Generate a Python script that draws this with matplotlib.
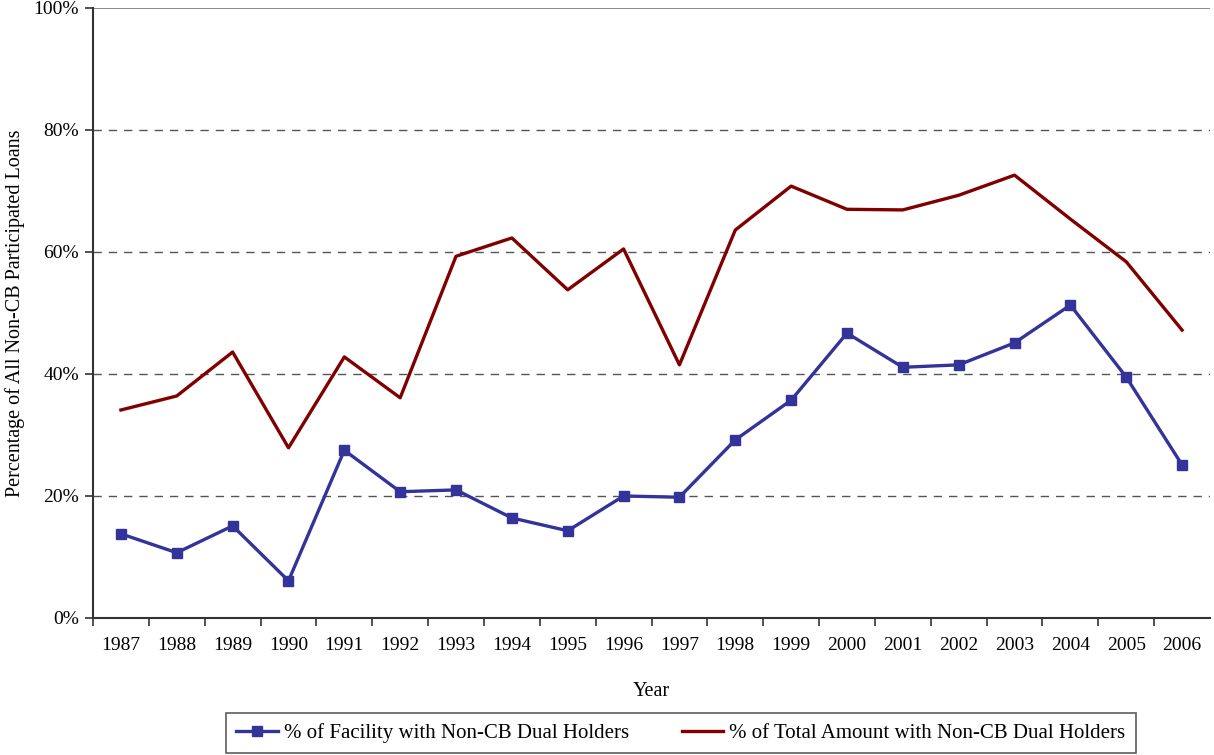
import matplotlib
matplotlib.use("Agg")
import matplotlib.pyplot as plt
import numpy as np
from matplotlib.ticker import FixedLocator, FuncFormatter

years = [str(y) for y in range(1987, 2007)]
facility_pct = [13.8, 10.7, 15.1, 6.1, 27.5, 20.7, 21.0, 16.4, 14.3, 20.0,
                19.8, 29.2, 35.7, 46.7, 41.1, 41.5, 45.1, 51.3, 39.5, 25.1]
amount_pct = [34.1, 36.4, 43.6, 27.9, 42.8, 36.1, 59.3, 62.3, 53.8, 60.5,
              41.5, 63.6, 70.8, 67.0, 66.9, 69.3, 72.6, 65.4, 58.4, 47.2]
y_ticks = [0, 20, 40, 60, 80, 100]

plt.rcParams['font.family'] = ['Liberation Serif', 'DejaVu Serif']

fig = plt.figure(figsize=(12.14, 7.55), dpi=100)
ax = fig.add_axes([93/1214, 1-618/755, (1210-93)/1214, (618-8)/755])

x = np.arange(len(years))
l1, = ax.plot(x, facility_pct, color='#333399', lw=2.4, marker='s', markersize=7,
              label='% of Facility with Non-CB Dual Holders', zorder=3)
l2, = ax.plot(x, amount_pct, color='#800000', lw=2.4,
              label='% of Total Amount with Non-CB Dual Holders', zorder=3)

ax.set_xlim(-0.5, len(years) - 0.5)
ax.set_ylim(0, 100)
ax.set_yticks(y_ticks)
ax.yaxis.set_major_formatter(FuncFormatter(lambda v, p: f"{int(v)}%"))
for v in y_ticks[1:-1]:
    ax.axhline(v, color='#555555', lw=1, ls=(0, (6, 5)), zorder=1)
ax.axhline(100, color='#777777', lw=1.2, zorder=1)

ax.set_xticks(x)
ax.set_xticklabels(years)
ax.tick_params(axis='x', which='major', length=0, pad=14, labelsize=14)
ax.xaxis.set_minor_locator(FixedLocator(np.arange(-0.5, len(years) - 0.6, 1.0)))
ax.tick_params(axis='x', which='minor', length=6, width=1.2, direction='out', color='#333333')
ax.tick_params(axis='y', length=6, width=1.2, direction='out', labelsize=14, color='#333333', pad=4)

for s in ['top', 'right']:
    ax.spines[s].set_visible(False)
for s in ['left', 'bottom']:
    ax.spines[s].set_color('#333333')
    ax.spines[s].set_linewidth(1.5)

ax.set_xlabel('Year', fontsize=14.5, labelpad=20)
ax.set_ylabel('Percentage of All Non-CB Participated Loans', fontsize=14.5, labelpad=6)

leg = fig.legend(handles=[l1, l2], loc='center', ncol=2,
                 bbox_to_anchor=(681/1214, 1-733/755), fontsize=15,
                 frameon=True, fancybox=False, edgecolor='#333333',
                 handlelength=2.0, handletextpad=0.3, columnspacing=2.5,
                 borderpad=0.5, borderaxespad=0)
leg.get_frame().set_linewidth(1.2)

fig.savefig('out.png', dpi=100)
